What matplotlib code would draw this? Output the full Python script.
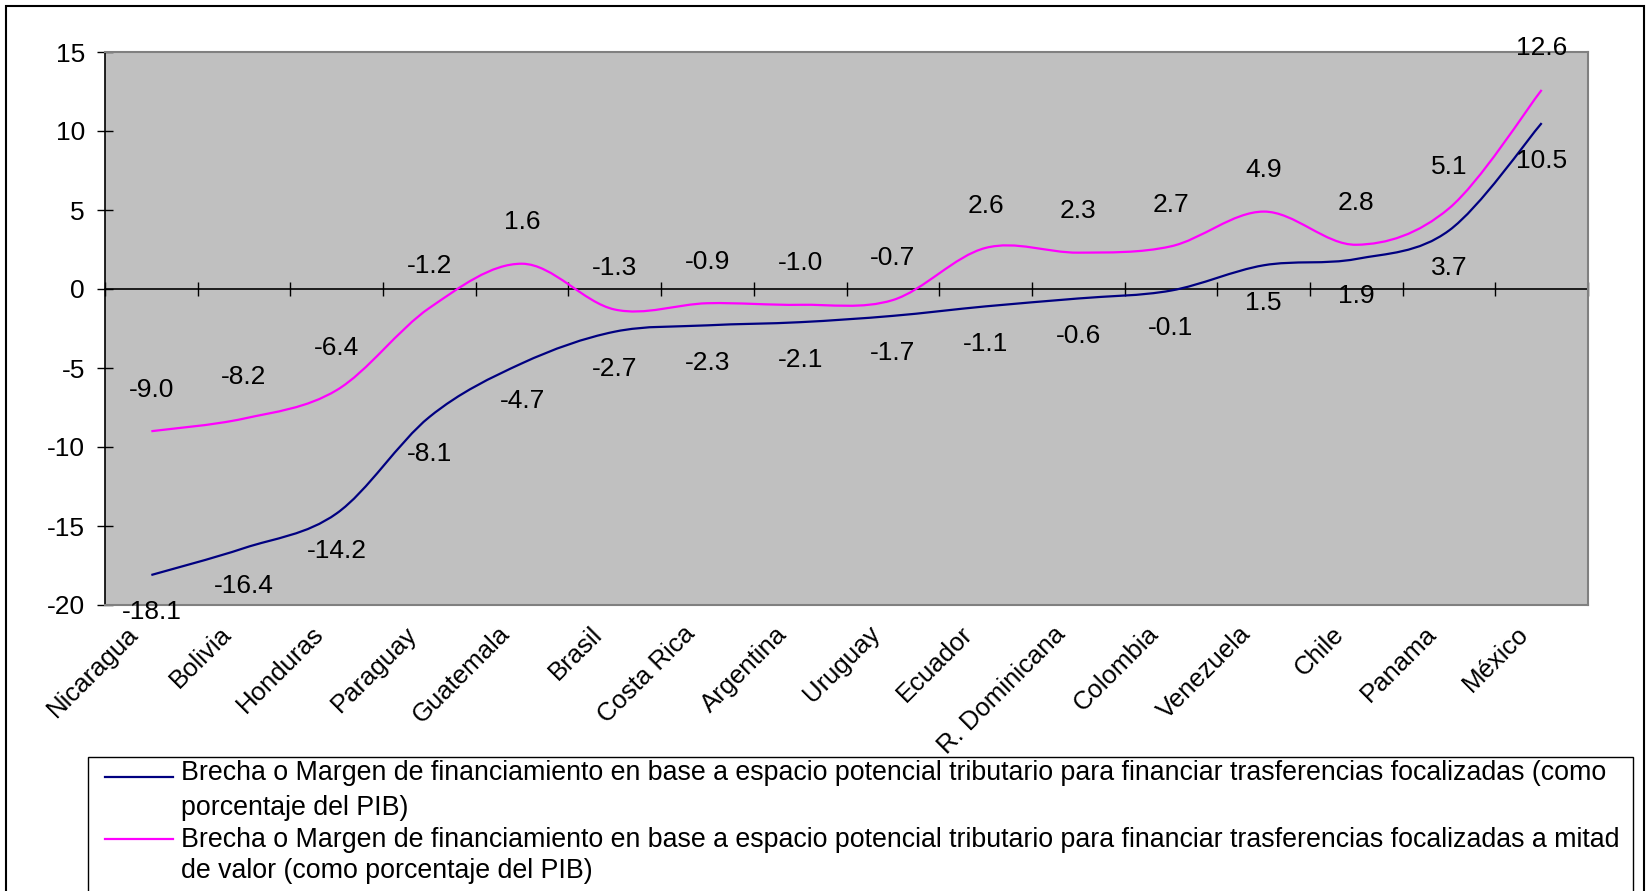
import matplotlib.pyplot as plt
from matplotlib.path import Path
from matplotlib.patches import PathPatch, Rectangle
from matplotlib.lines import Line2D
from matplotlib.transforms import ScaledTranslation

plt.rcParams['font.family'] = ['Liberation Sans', 'DejaVu Sans']
plt.rcParams['axes.unicode_minus'] = False

# ===============================
# DATA
# ===============================

countries = ["Nicaragua", "Bolivia", "Honduras", "Paraguay", "Guatemala", "Brasil",
             "Costa Rica", "Argentina", "Uruguay", "Ecuador", "R. Dominicana",
             "Colombia", "Venezuela", "Chile", "Panama", "México"]

brecha = [-18.1, -16.4, -14.2, -8.1, -4.7, -2.7, -2.3, -2.1, -1.7, -1.1, -0.6,
          -0.1, 1.5, 1.9, 3.7, 10.5]

brecha_mitad = [-9.0, -8.2, -6.4, -1.2, 1.6, -1.3, -0.9, -1.0, -0.7, 2.6, 2.3,
                2.7, 4.9, 2.8, 5.1, 12.6]

legend_lines = [
    ["Brecha o Margen de financiamiento en base a espacio potencial tributario para financiar trasferencias focalizadas (como",
     "porcentaje del PIB)"],
    ["Brecha o Margen de financiamiento en base a espacio potencial tributario para financiar trasferencias focalizadas a mitad",
     "de valor (como porcentaje del PIB)"],
]

NAVY = "#000080"
MAGENTA = "#FF00FF"

# ===============================
# FIGURE
# ===============================

W, H = 1647, 891
fig = plt.figure(figsize=(W / 100, H / 100), dpi=100)

ax = fig.add_axes([105 / W, 1 - 605 / H, (1588 - 105) / W, (605 - 52) / H])
ax.set_facecolor("#C0C0C0")
n = len(countries)
xs = list(range(n))
ax.set_xlim(-0.5, n - 0.5)
ax.set_ylim(-20, 15)


def smooth_path(xv, yv):
    # excel style smoothed line (bezier through the points)
    verts = [(xv[0], yv[0])]
    codes = [Path.MOVETO]
    m = len(xv)
    for i in range(m - 1):
        a = max(i - 1, 0)
        b = min(i + 2, m - 1)
        c1 = (xv[i] + (xv[i + 1] - xv[a]) / 6, yv[i] + (yv[i + 1] - yv[a]) / 6)
        c2 = (xv[i + 1] - (xv[b] - xv[i]) / 6, yv[i + 1] - (yv[b] - yv[i]) / 6)
        verts += [c1, c2, (xv[i + 1], yv[i + 1])]
        codes += [Path.CURVE4] * 3
    return Path(verts, codes)


ax.add_patch(PathPatch(smooth_path(xs, brecha), fill=False, ec=NAVY, lw=1.6, zorder=3))
ax.add_patch(PathPatch(smooth_path(xs, brecha_mitad), fill=False, ec=MAGENTA, lw=1.6, zorder=3))

for i in xs:
    ax.annotate(f"{brecha_mitad[i]:.1f}", (i, brecha_mitad[i]), xytext=(0, 30),
                textcoords="offset points", ha="center", va="center", fontsize=19)
    ax.annotate(f"{brecha[i]:.1f}", (i, brecha[i]), xytext=(0, -27),
                textcoords="offset points", ha="center", va="center", fontsize=19)

# spines
for s in ["top", "right", "bottom"]:
    ax.spines[s].set_color("#808080")
    ax.spines[s].set_linewidth(1.5)
ax.spines["left"].set_color("black")
ax.spines["left"].set_linewidth(1.2)

# y axis
ax.set_yticks(range(-20, 16, 5))
ax.tick_params(axis="y", direction="inout", length=11.5, width=1, labelsize=19, pad=8.6)

# category labels at the bottom
ax.set_xticks(xs)
ax.set_xticklabels(countries, rotation=45, ha="right", va="top", rotation_mode="anchor")
ax.tick_params(axis="x", length=0, labelsize=18.5, pad=12)
shift = ScaledTranslation(-18 / 72, 0, fig.dpi_scale_trans)
for lab in ax.get_xticklabels():
    lab.set_transform(lab.get_transform() + shift)

# x axis line at zero with ticks between categories
zero = ax.secondary_xaxis(20 / 35)
zero.set_xticks([i - 0.5 for i in range(n + 1)])
zero.tick_params(direction="inout", length=10, width=1, labeltop=False, labelbottom=False)
for s in ["top", "bottom"]:
    zero.spines[s].set_color("black")
    zero.spines[s].set_linewidth(1.2)

# ===============================
# FRAME AND LEGEND
# ===============================

fig.add_artist(Rectangle((6 / W, -0.05), (1644 - 6) / W, 1.05 - 6 / H,
                         transform=fig.transFigure, fill=False, ec="black", lw=1.5))
fig.add_artist(Rectangle((88 / W, -0.05), (1633 - 88) / W, 0.05 + 1 - 757 / H,
                         transform=fig.transFigure, fill=False, ec="black", lw=1.0))

handle_y = [777, 839]
text_y = [[773, 808], [840, 871]]
for color, hy, ty, lines in zip([NAVY, MAGENTA], handle_y, text_y, legend_lines):
    fig.add_artist(Line2D([105 / W, 173 / W], [1 - hy / H] * 2, transform=fig.transFigure,
                          color=color, lw=1.6))
    for t, yy in zip(lines, ty):
        fig.text(181 / W, 1 - yy / H, t, ha="left", va="center", fontsize=19.3)

fig.savefig("out.png", dpi=100)
